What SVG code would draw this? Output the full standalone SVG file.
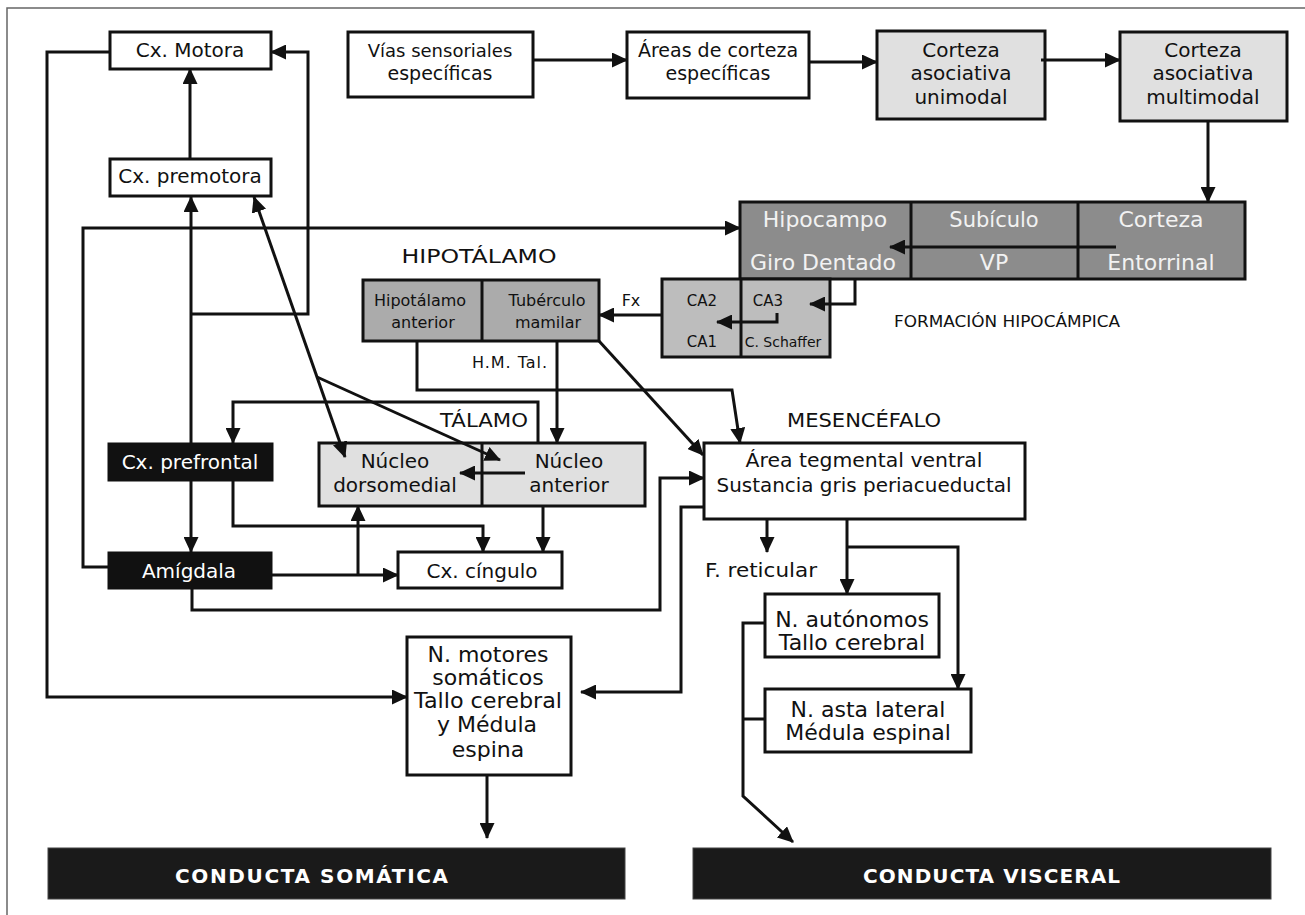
<svg xmlns="http://www.w3.org/2000/svg" width="1305" height="915" viewBox="0 0 1305 915">
<style>
text{font-family:"DejaVu Sans","Liberation Sans",sans-serif;fill:#111;font-size:20px}
.c{text-anchor:middle}
.box{fill:#fff;stroke:#111;stroke-width:3}
.lt{fill:#e0e0e0;stroke:#111;stroke-width:3}
.hy{fill:#ababab;stroke:#111;stroke-width:3}
.ca{fill:#bdbdbd;stroke:#111;stroke-width:3}
.hc{fill:#8c8c8c;stroke:#111;stroke-width:3}
.bk{fill:#111;stroke:#111;stroke-width:1}
.bar{fill:#1a1a1a;stroke:#444;stroke-width:1}
.w{fill:#fff}
.hw{fill:#f2f2f2;font-size:22px}
.dv{stroke:#111;stroke-width:3;fill:none}
#connectors path{fill:none;stroke:#111;stroke-width:3}
.a{marker-end:url(#ah)}
</style>
<defs>
<marker id="ah" viewBox="0 0 16 15" refX="15" refY="7.5" markerWidth="16" markerHeight="15" markerUnits="userSpaceOnUse" orient="auto-start-reverse"><path d="M0,0 L16,7.5 L0,15 z" fill="#111"/></marker>
</defs>
<rect width="1305" height="915" fill="#fff"/>
<path d="M7,915 V8 H1305" fill="none" stroke="#666" stroke-width="1.5"/>

<g id="cx-motora"><rect class="box" x="110" y="32" width="161" height="37"/><text class="c" x="190" y="57">Cx. Motora</text></g>
<g id="cx-premotora"><rect class="box" x="110" y="159" width="161" height="37"/><text class="c" x="190" y="183">Cx. premotora</text></g>
<g id="vias"><rect class="box" x="348" y="32" width="185" height="65"/><text class="c" x="440" y="57" style="font-size:18px">Vías sensoriales</text><text class="c" x="440" y="80" style="font-size:19px">específicas</text></g>
<g id="areas"><rect class="box" x="627" y="32" width="182" height="66"/><text class="c" x="718" y="57" style="font-size:19px">Áreas de corteza</text><text class="c" x="718" y="80" style="font-size:19px">específicas</text></g>
<g id="unimodal"><rect class="lt" x="877" y="31" width="168" height="88"/><text class="c" x="961" y="57">Corteza</text><text class="c" x="961" y="80">asociativa</text><text class="c" x="961" y="104">unimodal</text></g>
<g id="multimodal"><rect class="lt" x="1120" y="32" width="167" height="89"/><text class="c" x="1203" y="57">Corteza</text><text class="c" x="1203" y="80">asociativa</text><text class="c" x="1203" y="104">multimodal</text></g>

<g id="hipocampo"><rect class="hc" x="740" y="202" width="505" height="77"/><path class="dv" d="M911,202 V279 M1078,202 V279"/>
<text class="c hw" x="825" y="227">Hipocampo</text><text class="c hw" x="823" y="270">Giro Dentado</text>
<text class="c hw" x="994" y="227" style="font-size:21px">Subículo</text><text class="c hw" x="994" y="270">VP</text>
<text class="c hw" x="1161" y="227">Corteza</text><text class="c hw" x="1161" y="270">Entorrinal</text></g>
<g id="ca"><rect class="ca" x="662" y="279" width="168" height="78"/><path class="dv" d="M741,279 V357"/>
<text class="c" x="702" y="306" style="font-size:15px">CA2</text><text class="c" x="702" y="347" style="font-size:15px">CA1</text>
<text class="c" x="768" y="306" style="font-size:15px">CA3</text><text class="c" x="783" y="347" style="font-size:14px">C. Schaffer</text></g>
<text id="formacion" x="894" y="327" style="font-size:16px" textLength="226" lengthAdjust="spacingAndGlyphs">FORMACIÓN HIPOCÁMPICA</text>

<g id="hipotalamo"><text class="c" x="479" y="263" textLength="155" lengthAdjust="spacingAndGlyphs">HIPOTÁLAMO</text>
<rect class="hy" x="363" y="280" width="236" height="61"/><path class="dv" d="M482,280 V341"/>
<text class="c" x="420" y="306" style="font-size:16px">Hipotálamo</text><text class="c" x="423" y="328" style="font-size:16px">anterior</text>
<text class="c" x="547" y="306" style="font-size:16px">Tubérculo</text><text class="c" x="548" y="328" style="font-size:16px">mamilar</text></g>
<text id="fx" x="631" y="306" class="c" style="font-size:16px">Fx</text>
<text id="hmtal" x="472" y="368" style="font-size:16px" textLength="75">H.M. Tal.</text>

<g id="talamo"><text x="440" y="427" textLength="88" lengthAdjust="spacingAndGlyphs">TÁLAMO</text>
<rect class="lt" x="319" y="443" width="326" height="63"/><path class="dv" d="M482,443 V506"/>
<text class="c" x="395" y="468">Núcleo</text><text class="c" x="395" y="492">dorsomedial</text>
<text class="c" x="569" y="468">Núcleo</text><text class="c" x="569" y="492">anterior</text></g>

<g id="cx-prefrontal"><rect class="bk" x="108" y="443" width="165" height="38"/><text class="c w" x="190" y="469">Cx. prefrontal</text></g>
<g id="amigdala"><rect class="bk" x="108" y="552" width="164" height="37"/><text class="c w" x="189" y="578">Amígdala</text></g>
<g id="cx-cingulo"><rect class="box" x="398" y="552" width="164" height="36"/><text class="c" x="482" y="578">Cx. cíngulo</text></g>

<g id="mesencefalo"><text x="787" y="427" textLength="154" lengthAdjust="spacingAndGlyphs">MESENCÉFALO</text>
<rect class="box" x="704" y="443" width="321" height="76"/>
<text class="c" x="864" y="467" textLength="237" lengthAdjust="spacingAndGlyphs">Área tegmental ventral</text>
<text class="c" x="864" y="492" textLength="295" lengthAdjust="spacingAndGlyphs">Sustancia gris periacueductal</text></g>
<text id="f-reticular" x="705" y="577" textLength="112" lengthAdjust="spacingAndGlyphs">F. reticular</text>

<g id="n-autonomos"><rect class="box" x="765" y="594" width="174" height="63"/><text class="c" x="852" y="627" style="font-size:22px">N. autónomos</text><text class="c" x="852" y="650" style="font-size:22px">Tallo cerebral</text></g>
<g id="n-asta"><rect class="box" x="765" y="689" width="206" height="63"/><text class="c" x="868" y="717" style="font-size:22px">N. asta lateral</text><text class="c" x="868" y="740" style="font-size:22px">Médula espinal</text></g>
<g id="n-motores"><rect class="box" x="407" y="637" width="164" height="138"/>
<text class="c" x="488" y="662" style="font-size:22px">N. motores</text>
<text class="c" x="488" y="685" style="font-size:22px">somáticos</text>
<text class="c" x="488" y="708" style="font-size:22px" textLength="148" lengthAdjust="spacingAndGlyphs">Tallo cerebral</text>
<text class="c" x="487" y="732" style="font-size:22px">y Médula</text>
<text class="c" x="488" y="757" style="font-size:22px">espina</text></g>

<g id="conducta-somatica"><rect class="bar" x="48" y="848" width="577" height="51"/><text x="175" y="883" class="w" style="font-weight:bold" textLength="273" lengthAdjust="spacing">CONDUCTA SOMÁTICA</text></g>
<g id="conducta-visceral"><rect class="bar" x="693" y="848" width="578" height="51"/><text x="863" y="883" class="w" style="font-weight:bold" textLength="257" lengthAdjust="spacing">CONDUCTA VISCERAL</text></g>

<g id="connectors">
<path class="a" d="M110,52 H47 V697 H407"/>
<path class="a" d="M190,159 V69"/>
<path class="a" d="M191,443 V197"/>
<path class="a" d="M191,481 V552"/>
<path class="a" d="M191,314 H308 V52 H271"/>
<path class="a" d="M108,567 H83 V228 H740"/>
<path d="M345,457 L254,197" marker-start="url(#ah)" marker-end="url(#ah)"/>
<path class="a" d="M317,377 L500,460"/>
<path class="a" d="M538,443 V402 H233 V443"/>
<path class="a" d="M525,473 H460"/>
<path class="a" d="M233,481 V526 H483 V552"/>
<path class="a" d="M272,575 H398"/>
<path class="a" d="M358,575 V506"/>
<path class="a" d="M543,506 V552"/>
<path class="a" d="M192,589 V610 H660 V478 H704"/>
<path class="a" d="M417,341 V390 H732 L740,443"/>
<path class="a" d="M557,341 V443"/>
<path class="a" d="M599,341 L703,455"/>
<path class="a" d="M662,315 H599"/>
<path class="a" d="M855,279 V304 H810"/>
<path class="a" d="M777,313 V322 H717"/>
<path class="a" d="M1116,247 H890"/>
<path class="a" d="M1208,121 V202"/>
<path class="a" d="M533,60 H627"/>
<path class="a" d="M809,62 H877"/>
<path class="a" d="M1041,60 H1120"/>
<path class="a" d="M767,519 V552"/>
<path class="a" d="M847,519 V594"/>
<path class="a" d="M847,547 H958 V689"/>
<path class="a" d="M704,507 H681 V692 H581"/>
<path class="a" d="M765,623 H743 V796 L793,842"/>
<path d="M743,719 H765"/>
<path class="a" d="M487,775 V838"/>
</g>
</svg>
